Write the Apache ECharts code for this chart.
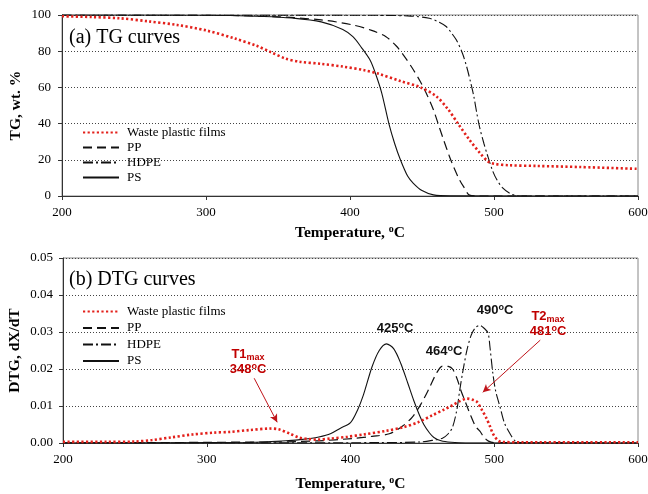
<!DOCTYPE html>
<html><head><meta charset="utf-8">
<script src="https://cdn.jsdelivr.net/npm/echarts@6/dist/echarts.min.js"></script>
<style>html,body{margin:0;padding:0;background:#fff}#c{width:648px;height:494px}</style>
</head><body><div id="c"></div>
<script>
// ---- data: [temperature °C, value] ----
var seriesNames = ['Waste plastic films', 'PP', 'HDPE', 'PS'];
var xTicks = [200, 300, 400, 500, 600];

var tgWaste = [[200,99.3],[220,98.9],[240,98.2],[260,96.5],[280,94.5],[300,91.5],[320,87],[335,83],[345,79.5],[355,76],[365,74.2],[380,73],[395,71.5],[410,69.5],[420,67.5],[435,63.5],[449,60],[460,55],[468,48],[475,40],[483,31],[490,24],[496,19],[500,17.8],[510,17],[530,16.6],[560,16],[600,15]];
var tgPP = [[200,100],[300,99.9],[350,99],[380,97.3],[402,94.5],[415,91.5],[425,88],[432,83],[437,78],[443,71],[449,63],[454,55],[458,47.5],[462,38],[465,31],[469,22],[472,16],[476,9],[479,5],[483,0.5],[490,0],[600,0]];
var tgHDPE = [[200,100],[400,99.9],[440,99.5],[455,98.2],[462,96],[467,93.5],[471,89.5],[474,86],[478,79],[481,71.5],[484,62],[486,55],[488,46],[490,38],[493,29],[495,23.7],[499,14],[502,9],[506,4.5],[511,1.5],[515,0.3],[520,0],[600,0]];
var tgPS = [[200,100],[300,99.9],[340,99.2],[360,98.3],[380,96.2],[395,92],[402,88],[408,82],[414,75],[418,67],[422,57],[427,40],[431,29],[435,20],[440,11],[444,7],[450,3],[458,0.6],[470,0.1],[600,0]];

var dtgWaste = [[200,0.0003],[230,0.0003],[250,0.0004],[262,0.0008],[275,0.0015],[290,0.0023],[305,0.0028],[316,0.003],[330,0.0035],[344,0.0039],[350,0.0037],[358,0.0025],[364,0.0015],[370,0.0011],[377,0.0009],[386,0.0012],[398,0.0017],[409,0.0023],[425,0.0033],[437,0.0043],[447,0.0056],[457,0.0075],[465,0.009],[471,0.0102],[476,0.0113],[481,0.012],[485,0.0117],[488,0.0111],[491,0.0092],[494.7,0.0066],[497,0.0045],[499,0.0026],[502,0.0009],[505,0.0003],[520,0.0002],[600,0.0002]];
var dtgPP = [[200,0],[350,0.0003],[378,0.0006],[401,0.0012],[415,0.0018],[427,0.0025],[436,0.0045],[443,0.007],[449,0.0105],[455,0.015],[460,0.019],[464,0.0208],[468,0.0207],[471,0.02],[474,0.0175],[477,0.014],[480,0.011],[483,0.008],[487,0.0045],[490,0.0032],[493,0.0015],[496,0.0005],[500,0.0001],[600,0]];
var dtgHDPE = [[200,0],[420,0.0001],[449,0.0003],[458,0.0008],[464,0.0013],[468,0.0025],[471,0.0043],[474,0.009],[476,0.0143],[478,0.019],[481,0.0251],[484,0.0292],[487,0.0312],[490,0.0318],[493,0.031],[495.7,0.0297],[497,0.026],[499,0.0189],[501,0.014],[504,0.0098],[507,0.0055],[511,0.0025],[515,0.0004],[520,0.0001],[600,0]];
var dtgPS = [[200,0],[330,0.0002],[355,0.0006],[365,0.0009],[372,0.0012],[378,0.0016],[386,0.0025],[393,0.004],[400,0.0055],[405,0.009],[409,0.013],[415,0.0206],[420,0.025],[425,0.0268],[430,0.0255],[435,0.0215],[440,0.016],[444,0.0115],[448,0.0075],[451,0.005],[455,0.0027],[458,0.0015],[463,0.0006],[470,0.0002],[480,0],[600,0]];

var peakLabels = ['425', '464', '490'];
var t1max = '348', t2max = '481';
// arrows (data coordinates on the DTG panel)
var arrowT1 = [[333, 0.0175], [349, 0.0056]];
var arrowT2 = [[532, 0.0278], [492, 0.0137]];

// ---- styles ----
var SERIF = '"Liberation Serif", "Times New Roman", serif';
var SANS = '"Liberation Sans", Arial, sans-serif';
var RED = '#e3201b';
var styles = {
  'Waste plastic films': {color: RED, width: 2.6, type: [2.2, 2.4], cap: 'butt'},
  'PP': {color: '#111', width: 1.2, type: [9, 5]},
  'HDPE': {color: '#111', width: 1.1, type: [10, 3, 2, 3]},
  'PS': {color: '#111', width: 1.1, type: 'solid'}
};

function mk(name, data, gi, extra) {
  var s = styles[name];
  var o = {
    name: name, type: 'line', xAxisIndex: gi, yAxisIndex: gi,
    data: data, smooth: 0.3, symbol: 'none', showSymbol: false,
    lineStyle: {color: s.color, width: s.width, type: s.type, cap: s.cap || 'butt'},
    itemStyle: {color: s.color}, z: name === 'Waste plastic films' ? 3 : 2,
    animation: false
  };
  if (extra) for (var k in extra) o[k] = extra[k];
  return o;
}

function xAx(gi) {
  return {
    type: 'value', gridIndex: gi, min: 200, max: 600, interval: 100,
    name: 'Temperature, {sup|o}C', nameLocation: 'middle', nameGap: gi === 0 ? 28 : 32,
    nameTextStyle: {fontFamily: SERIF, fontSize: 15.5, fontWeight: 'bold', color: '#000',
      rich: {sup: {fontFamily: SERIF, fontSize: 10, fontWeight: 'bold', color: '#000', verticalAlign: 'top', padding: [0,0,8,0]}}},
    axisLine: {show: true, onZero: false, lineStyle: {color: '#333', width: 1}},
    axisTick: {show: true, length: 4, inside: false, lineStyle: {color: '#333'}},
    axisLabel: {fontFamily: SERIF, fontSize: 13, color: '#000', margin: 10},
    splitLine: {show: false}
  };
}
function yAx(gi) {
  var top = gi === 0;
  return {
    type: 'value', gridIndex: gi, min: 0, max: top ? 100 : 0.05, interval: top ? 20 : 0.01,
    name: top ? 'TG, wt. %' : 'DTG, dX/dT', nameLocation: 'middle', nameGap: top ? 38 : 40,
    nameMoveOverlap: false,
    nameTextStyle: {fontFamily: SERIF, fontSize: 15.5, fontWeight: 'bold', color: '#000'},
    axisLine: {show: true, lineStyle: {color: '#333', width: 1}},
    axisTick: {show: true, length: 4, lineStyle: {color: '#333'}},
    axisLabel: {fontFamily: SERIF, fontSize: 13, color: '#000', margin: top ? 11 : 10,
      formatter: top ? '{value}' : function (v) { return v.toFixed(2); }},
    splitLine: {show: true, lineStyle: {color: '#444', type: [1, 2], width: 1}}
  };
}

function legend(top, gap) {
  return {
    orient: 'vertical', left: 77, top: top, itemWidth: 36, itemHeight: 12, itemGap: gap,
    data: seriesNames, selectedMode: false,
    itemStyle: {opacity: 0},
    textStyle: {fontFamily: SERIF, fontSize: 13, color: '#000', padding: [0,0,0,3]}
  };
}

var chart = echarts.init(document.getElementById('c'), null, {renderer: 'canvas'});

var series = [
  mk('Waste plastic films', tgWaste, 0),
  mk('PP', tgPP, 0),
  mk('HDPE', tgHDPE, 0),
  mk('PS', tgPS, 0),
  mk('Waste plastic films', dtgWaste, 1, {
    markLine: {
      silent: true, animation: false, symbol: ['none', 'arrow'], symbolSize: [6, 8],
      lineStyle: {color: '#c0141a', width: 1, type: 'solid'}, label: {show: false},
      data: [
        [{coord: arrowT1[0]}, {coord: arrowT1[1]}],
        [{coord: arrowT2[0]}, {coord: arrowT2[1]}]
      ]
    }
  }),
  mk('PP', dtgPP, 1),
  mk('HDPE', dtgHDPE, 1),
  mk('PS', dtgPS, 1)
];

var richAnn = {
  sub: {fontFamily: SANS, fontSize: 9, fontWeight: 'bold', fill: '#c00000', padding: [6,0,0,0]},
  sup: {fontFamily: SANS, fontSize: 9, fontWeight: 'bold', fill: '#c00000', padding: [0,0,5,0]},
  m: {fontFamily: SANS, fontSize: 13, fontWeight: 'bold', fill: '#c00000'}
};
var richBlk = {
  sup: {fontFamily: SANS, fontSize: 9, fontWeight: 'bold', fill: '#111', padding: [0,0,5,0]},
  m: {fontFamily: SANS, fontSize: 13, fontWeight: 'bold', fill: '#111'}
};
function annTxt(x, y, txt, rich) {
  return {type: 'text', x: x, y: y, z: 50, silent: true,
    style: {text: txt, rich: rich, align: 'center', verticalAlign: 'middle', lineHeight: 15}};
}

chart.setOption({
  animation: false,
  backgroundColor: '#fff',
  grid: [
    {left: 62, right: 10, top: 15, height: 181, outerBoundsMode: 'none', show: true, borderColor: '#888', borderWidth: 1, backgroundColor: 'transparent'},
    {left: 63, right: 10, top: 258, height: 185, outerBoundsMode: 'none', show: true, borderColor: '#888', borderWidth: 1, backgroundColor: 'transparent'}
  ],
  title: [
    {text: '(a) TG curves', left: 64, top: 23, textStyle: {fontFamily: SERIF, fontSize: 20, fontWeight: 'normal', color: '#000'}},
    {text: '(b) DTG curves', left: 64, top: 265, textStyle: {fontFamily: SERIF, fontSize: 20, fontWeight: 'normal', color: '#000'}}
  ],
  legend: [legend(121, 2), legend(300, 3.5)],
  xAxis: [xAx(0), xAx(1)],
  yAxis: [yAx(0), yAx(1)],
  series: series,
  graphic: [
    annTxt(248, 362, '{m|T1}{sub|max}\n{m|' + t1max + '}{sup|o}{m|C}', richAnn),
    annTxt(548, 324, '{m|T2}{sub|max}\n{m|' + t2max + '}{sup|o}{m|C}', richAnn),
    annTxt(395, 328, '{m|' + peakLabels[0] + '}{sup|o}{m|C}', richBlk),
    annTxt(444, 351, '{m|' + peakLabels[1] + '}{sup|o}{m|C}', richBlk),
    annTxt(495, 310, '{m|' + peakLabels[2] + '}{sup|o}{m|C}', richBlk)
  ]
});
</script></body></html>
